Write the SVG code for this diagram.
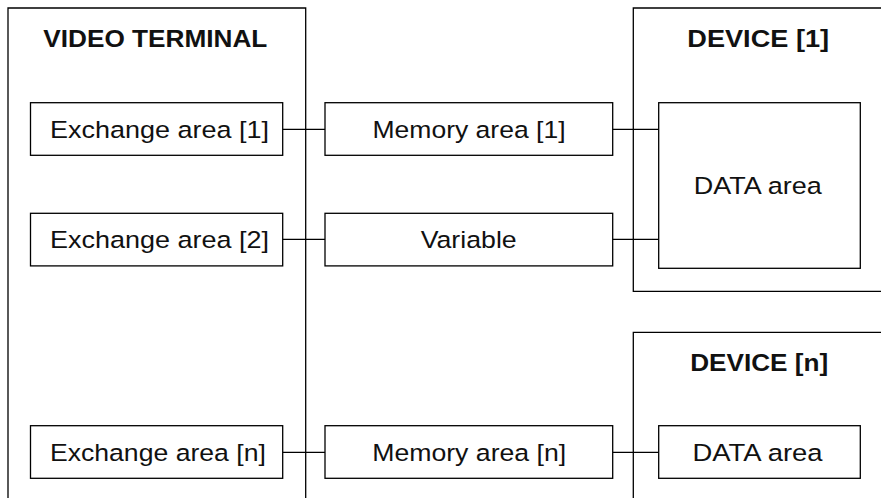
<svg xmlns="http://www.w3.org/2000/svg" width="881" height="498" viewBox="0 0 881 498">
<style>
.b{fill:#fff;stroke:#000;stroke-width:1.3}
.o{fill:none;stroke:#000;stroke-width:1.3}
.t{font-family:"Liberation Sans",Arial,sans-serif;font-size:24.5px;fill:#111;text-anchor:middle}
.h{font-family:"Liberation Sans",Arial,sans-serif;font-size:23px;font-weight:bold;fill:#111;text-anchor:middle}
.c{stroke:#000;stroke-width:1.3;fill:none}
</style>
<rect width="881" height="498" fill="#fff"/>
<g id="video-terminal">
<path class="o" d="M8,498 V8 H305.7 V498"/>
<text class="h" x="155.3" y="46.5" textLength="224" lengthAdjust="spacingAndGlyphs">VIDEO TERMINAL</text>
</g>
<g id="device-1">
<path class="o" d="M881,8 H633.3 V291.3 H881"/>
<text class="h" x="758.2" y="46.5" textLength="141.7" lengthAdjust="spacingAndGlyphs">DEVICE [1]</text>
</g>
<g id="device-n">
<path class="o" d="M881,332.3 H633.3 V498"/>
<text class="h" x="759.2" y="371" textLength="138" lengthAdjust="spacingAndGlyphs">DEVICE [n]</text>
</g>
<g id="connectors">
<line class="c" x1="282.7" y1="129.3" x2="325" y2="129.3"/>
<line class="c" x1="612.7" y1="129.3" x2="658.7" y2="129.3"/>
<line class="c" x1="282.7" y1="239.3" x2="325" y2="239.3"/>
<line class="c" x1="612.7" y1="239.3" x2="658.7" y2="239.3"/>
<line class="c" x1="282.7" y1="452.3" x2="325" y2="452.3"/>
<line class="c" x1="612.7" y1="452.3" x2="658.7" y2="452.3"/>
</g>
<g id="exchange-1">
<rect class="b" x="30.5" y="102.7" width="252.2" height="52.6"/>
<text class="t" x="159.5" y="137.8" textLength="219" lengthAdjust="spacingAndGlyphs">Exchange area [1]</text>
</g>
<g id="exchange-2">
<rect class="b" x="30.5" y="213.3" width="252.2" height="52.6"/>
<text class="t" x="159.5" y="248.4" textLength="219" lengthAdjust="spacingAndGlyphs">Exchange area [2]</text>
</g>
<g id="exchange-n">
<rect class="b" x="30.5" y="425.7" width="252.2" height="52.6"/>
<text class="t" x="157.9" y="460.8" textLength="216" lengthAdjust="spacingAndGlyphs">Exchange area [n]</text>
</g>
<g id="memory-1">
<rect class="b" x="325" y="102.7" width="287.7" height="52.6"/>
<text class="t" x="469" y="137.8" textLength="193" lengthAdjust="spacingAndGlyphs">Memory area [1]</text>
</g>
<g id="variable">
<rect class="b" x="325" y="213.3" width="287.7" height="52.6"/>
<text class="t" x="468.7" y="248.4" textLength="96" lengthAdjust="spacingAndGlyphs">Variable</text>
</g>
<g id="memory-n">
<rect class="b" x="325" y="425.7" width="287.7" height="52.6"/>
<text class="t" x="469.2" y="460.8" textLength="194" lengthAdjust="spacingAndGlyphs">Memory area [n]</text>
</g>
<g id="data-1">
<rect class="b" x="658.7" y="102.7" width="201.6" height="165.6"/>
<text class="t" x="757.7" y="194.3" textLength="128" lengthAdjust="spacingAndGlyphs">DATA area</text>
</g>
<g id="data-n">
<rect class="b" x="658.7" y="425.7" width="201.6" height="52.6"/>
<text class="t" x="757.5" y="460.8" textLength="130" lengthAdjust="spacingAndGlyphs">DATA area</text>
</g>
</svg>
